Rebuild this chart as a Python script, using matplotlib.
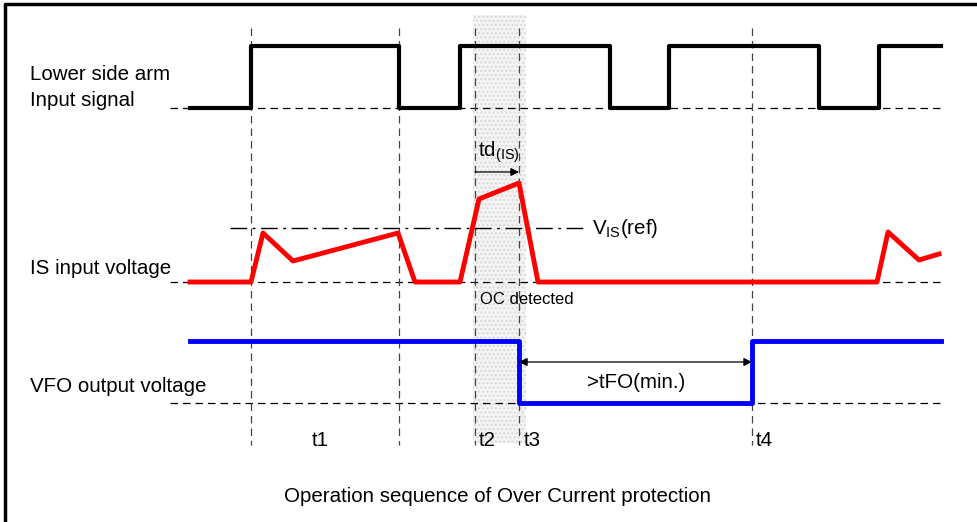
import matplotlib.pyplot as plt
from matplotlib.patches import Rectangle

plt.rcParams['font.family'] = ['Liberation Sans', 'DejaVu Sans']
plt.rcParams['hatch.linewidth'] = 1.0

# diagram coordinates (pixel-like units, y grows downward)
gate_x = [190, 251, 251, 399, 399, 460, 460, 610, 610, 669, 669, 819, 819, 879, 879, 941]
gate_y = [108, 108, 46, 46, 108, 108, 46, 46, 108, 108, 46, 46, 108, 108, 46, 46]

is_x = [190, 251, 263, 293, 398, 415, 460, 479, 519, 538, 877, 888, 919, 939]
is_y = [282, 282, 233, 261, 233, 282, 282, 199, 183, 282, 282, 232, 260, 254]

vfo_x = [190, 519, 519, 752, 752, 941]
vfo_y = [341, 341, 403, 403, 341, 341]

baselines = [108, 282, 403]
v_ref = 228
marker_x = [251, 399, 475, 519, 752]

signal_labels = [("Lower side arm", 75), ("Input signal", 100),
                 ("IS input voltage", 268), ("VFO output voltage", 387)]
time_labels = [("t1", 312), ("t2", 479), ("t3", 524), ("t4", 756)]

fs = 14.8

fig = plt.figure(figsize=(9.78, 5.22), dpi=100)
ax = fig.add_axes([0, 0, 1, 1])
ax.set_xlim(0, 978)
ax.set_ylim(522, 0)
ax.axis('off')

# border (top and left only visible)
ax.plot([5, 5, 978], [522, 4, 4], color='black', lw=2.5, solid_capstyle='butt')

# shaded detection window
ax.add_patch(Rectangle((473, 15), 53, 428, facecolor='#f4f4f4', edgecolor='#d8d8d8',
                       lw=0, hatch='....', zorder=0))

# dashed guides
for y in baselines:
    ax.plot([170, 940], [y, y], color='black', lw=0.9, ls=(0, (6, 4)), zorder=1)
for x in marker_x:
    ax.plot([x, x], [28, 445], color='#444444', lw=0.9, ls=(0, (6, 4)), zorder=1)
ax.plot([230, 585], [v_ref, v_ref], color='black', lw=1.0, ls=(0, (12, 4, 2, 4)), zorder=1)

# signals
ax.plot(gate_x, gate_y, color='black', lw=3, zorder=3)
ax.plot(is_x, is_y, color='#ff0000', lw=3.5, zorder=3)
ax.plot(vfo_x, vfo_y, color='#0000ff', lw=3.5, zorder=3)

# arrows
ax.annotate('', xy=(519, 172), xytext=(475, 172),
            arrowprops=dict(arrowstyle='-|>', color='black', lw=0.9, mutation_scale=12,
                            shrinkA=0, shrinkB=0))
ax.annotate('', xy=(752, 362), xytext=(519, 362),
            arrowprops=dict(arrowstyle='<|-|>', color='black', lw=0.9, mutation_scale=12,
                            shrinkA=0, shrinkB=0))

# text
for s, y in signal_labels:
    ax.text(30, y, s, fontsize=fs, va='center', ha='left')
for s, x in time_labels:
    ax.text(x, 440, s, fontsize=fs, va='center', ha='left')
ax.text(478, 152, r'td$_{\mathregular{(IS)}}$', fontsize=fs, va='center', ha='left')
ax.text(592, 228, r'V$_{\mathregular{IS}}$(ref)', fontsize=fs, va='center', ha='left')
ax.text(480, 300, 'OC detected', fontsize=12, va='center', ha='left')
ax.text(636, 383, '>tFO(min.)', fontsize=fs, va='center', ha='center')
ax.text(497, 497, 'Operation sequence of Over Current protection', fontsize=fs,
        va='center', ha='center')

fig.savefig('out.png', dpi=100)
